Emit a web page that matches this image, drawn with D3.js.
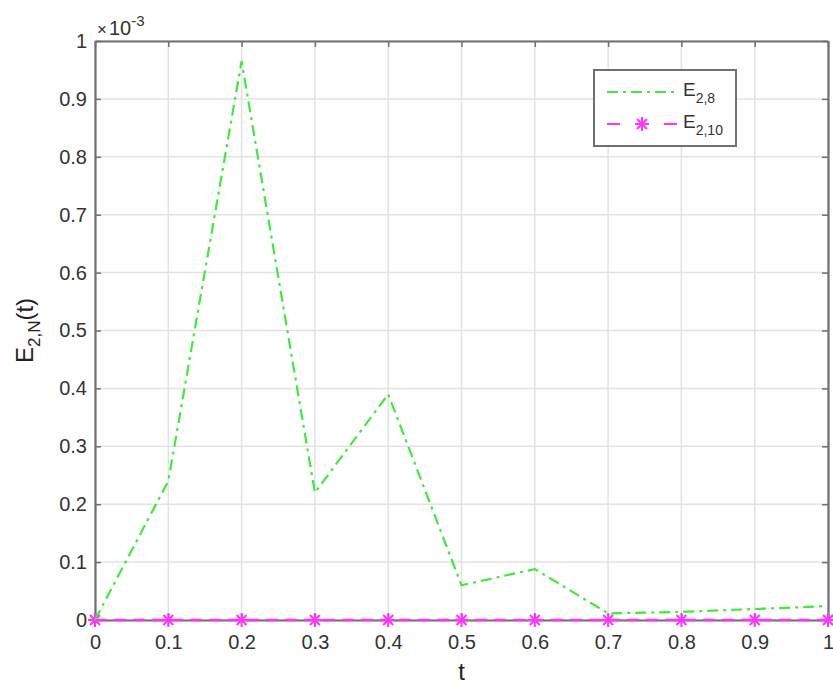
<!DOCTYPE html>
<html><head><meta charset="utf-8">
<script src="https://cdn.jsdelivr.net/npm/d3@7"></script>
<style>body{margin:0;background:#fff}text{font-family:"Liberation Sans",Arial,sans-serif}</style>
</head><body>
<svg id="c" width="833" height="685"></svg>
<script>
const tValues = [0,0.1,0.2,0.3,0.4,0.5,0.6,0.7,0.8,0.9,1];
const e28 = [0,0.24,0.965,0.22,0.39,0.06,0.088,0.0115,0.014,0.019,0.024];
const e210 = [0,0,0,0,0,0,0,0,0,0,0];
const xTicks = [0,0.1,0.2,0.3,0.4,0.5,0.6,0.7,0.8,0.9,1];
const yTicks = [0,0.1,0.2,0.3,0.4,0.5,0.6,0.7,0.8,0.9,1];
const seriesNames = ["E_{2,8}","E_{2,10}"];

const svg = d3.select("#c");
const L=95,R=828,T=41,B=620;
const x = d3.scaleLinear().domain([0,1]).range([L,R]);
const y = d3.scaleLinear().domain([0,1]).range([B,T]);
const fmt = d => d===0?"0":(d===1?"1":String(d));

// grid
svg.append("g").selectAll("line").data(xTicks).join("line")
  .attr("x1",d=>x(d)).attr("x2",d=>x(d)).attr("y1",T).attr("y2",B)
  .attr("stroke","#e3e3e3").attr("stroke-width",1.5);
svg.append("g").selectAll("line").data(yTicks).join("line")
  .attr("y1",d=>y(d)).attr("y2",d=>y(d)).attr("x1",L).attr("x2",R)
  .attr("stroke","#e3e3e3").attr("stroke-width",1.5);

// axes
const xa = svg.append("g").attr("transform",`translate(0,${B})`)
  .call(d3.axisBottom(x).tickValues(xTicks).tickFormat(fmt).tickSizeInner(-6).tickSizeOuter(0).tickPadding(15));
const xt = svg.append("g").attr("transform",`translate(0,${T})`)
  .call(d3.axisTop(x).tickValues(xTicks).tickFormat("").tickSizeInner(-6).tickSizeOuter(0));
const ya = svg.append("g").attr("transform",`translate(${L},0)`)
  .call(d3.axisLeft(y).tickValues(yTicks).tickFormat(fmt).tickSizeInner(-6).tickSizeOuter(0).tickPadding(8));
const yr = svg.append("g").attr("transform",`translate(${R},0)`)
  .call(d3.axisRight(y).tickValues(yTicks).tickFormat("").tickSizeInner(-6).tickSizeOuter(0));
[xa,xt,ya,yr].forEach(g=>{
  g.select(".domain").attr("stroke","#707070").attr("stroke-width",2.2);
  g.selectAll(".tick line").attr("stroke","#707070").attr("stroke-width",1.5);
  g.selectAll(".tick text").attr("fill","#333").style("font-size","20px");
});

// multiplier
const mt = svg.append("text").attr("x",97).attr("y",35).attr("fill","#333").style("font-size","20px");
mt.append("tspan").text("×").style("font-size","17px");
mt.append("tspan").text("10").attr("dx",2);
mt.append("tspan").text("-3").attr("dy",-9).style("font-size","15px");

// labels
svg.append("text").attr("x",x(0.5)).attr("y",680).attr("text-anchor","middle")
  .attr("fill","#222").style("font-size","24px").text("t");
const yl = svg.append("text").attr("transform",`translate(33,${y(0.5)}) rotate(-90)`)
  .attr("text-anchor","middle").attr("fill","#222").style("font-size","24px");
yl.append("tspan").text("E");
yl.append("tspan").text("2,N").attr("dy",7).style("font-size","17px");
yl.append("tspan").text("(t)").attr("dy",-7);

const green="#40e840", mag="#ff33ff";
const line = d3.line().x((d,i)=>x(tValues[i])).y(d=>y(d));

// E2,10 line
svg.append("path").datum(e210).attr("d",line).attr("fill","none")
  .attr("stroke",mag).attr("stroke-width",2.5).attr("stroke-dasharray","12,7");
function star(g,cx,cy,s,col){
  const a=[0,45,90,135];
  a.forEach(ang=>{
    const r=ang*Math.PI/180;
    g.append("line").attr("x1",cx-s*Math.cos(r)).attr("y1",cy-s*Math.sin(r))
      .attr("x2",cx+s*Math.cos(r)).attr("y2",cy+s*Math.sin(r))
      .attr("stroke",col).attr("stroke-width",2);
  });
}
const sg = svg.append("g");
e210.forEach((d,i)=>star(sg,x(tValues[i]),y(d),7,mag));

// E2,8 line
svg.append("path").datum(e28).attr("d",line).attr("fill","none")
  .attr("stroke",green).attr("stroke-width",2.2).attr("stroke-dasharray","11,5,3,5");

// legend
const lg = svg.append("g");
lg.append("rect").attr("x",594).attr("y",70).attr("width",142).attr("height",76)
  .attr("fill","#fff").attr("stroke","#707070").attr("stroke-width",2);
lg.append("line").attr("x1",607).attr("x2",677).attr("y1",92).attr("y2",92)
  .attr("stroke",green).attr("stroke-width",2.2).attr("stroke-dasharray","11,5,3,5");
lg.append("line").attr("x1",607).attr("x2",677).attr("y1",124).attr("y2",124)
  .attr("stroke",mag).attr("stroke-width",2.2).attr("stroke-dasharray","13,44");
star(lg,642,124,7,mag);
[[seriesNames[0],92],[seriesNames[1],124]].forEach(([n,yy])=>{
  const m = n.match(/^(\w)_\{(.*)\}$/);
  const t = lg.append("text").attr("x",683).attr("y",yy+4).attr("fill","#333").style("font-size","19px");
  t.append("tspan").text(m[1]);
  t.append("tspan").text(m[2]).attr("dy",7).style("font-size","14px");
});
</script>
</body></html>
